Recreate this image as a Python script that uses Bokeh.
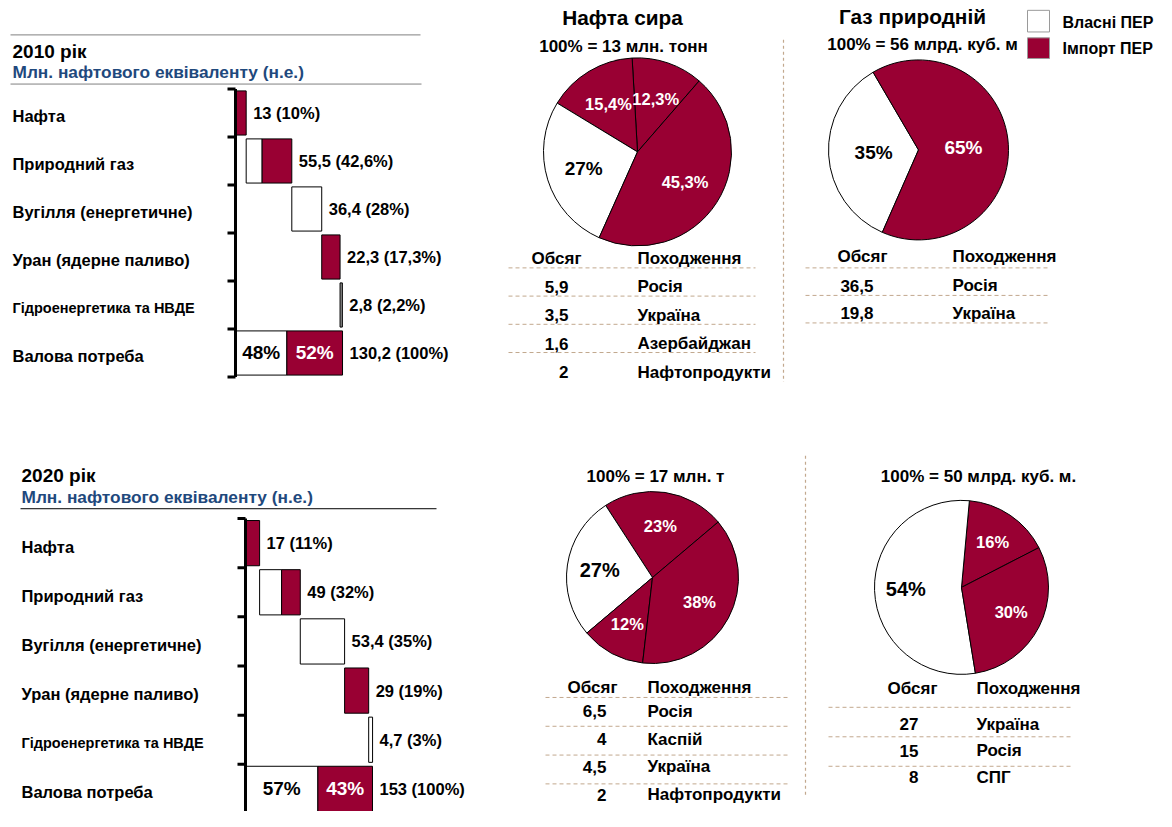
import numpy as np
from bokeh.plotting import figure
from bokeh.models import Range1d
from bokeh.embed import file_html
from bokeh.resources import INLINE
from bokeh.core.properties import value

# ------------------------------------------------------------------ data
categories = ["Нафта", "Природний газ", "Вугілля (енергетичне)",
              "Уран (ядерне паливо)", "Гідроенергетика та НВДЕ", "Валова потреба"]

own_2010 = [0.0, 19.4, 36.4, 0.0, 2.8]
imp_2010 = [13.0, 36.1, 0.0, 22.3, 0.0]
total_2010 = 130.2
share_2010 = [48, 52]
share_text_2010 = ["48%", "52%"]
value_labels_2010 = ["13 (10%)", "55,5 (42,6%)", "36,4 (28%)", "22,3 (17,3%)",
                     "2,8 (2,2%)", "130,2 (100%)"]

own_2020 = [0.0, 26.5, 53.4, 0.0, 4.7]
imp_2020 = [17.0, 22.5, 0.0, 29.0, 0.0]
total_2020 = 153.0
share_2020 = [57, 43]
share_text_2020 = ["57%", "43%"]
value_labels_2020 = ["17 (11%)", "49 (32%)", "53,4 (35%)", "29 (19%)",
                     "4,7 (3%)", "153 (100%)"]

# pies (slices listed counter-clockwise)
oil2010_pct = [12.3, 15.4, 27.0, 45.3]
oil2010_kind = ["imp", "imp", "own", "imp"]
oil2010_text = ["12,3%", "15,4%", "27%", "45,3%"]
oil2010_vol = ["5,9", "3,5", "1,6", "2"]
oil2010_origin = ["Росія", "Україна", "Азербайджан", "Нафтопродукти"]

gas2010_pct = [35.0, 65.0]
gas2010_kind = ["own", "imp"]
gas2010_text = ["35%", "65%"]
gas2010_vol = ["36,5", "19,8"]
gas2010_origin = ["Росія", "Україна"]

oil2020_pct = [23.0, 27.0, 12.0, 38.0]
oil2020_kind = ["imp", "own", "imp", "imp"]
oil2020_text = ["23%", "27%", "12%", "38%"]
oil2020_vol = ["6,5", "4", "4,5", "2"]
oil2020_origin = ["Росія", "Каспій", "Україна", "Нафтопродукти"]

gas2020_pct = [16.0, 54.0, 30.0]
gas2020_kind = ["imp", "own", "imp"]
gas2020_text = ["16%", "54%", "30%"]
gas2020_vol = ["27", "15", "8"]
gas2020_origin = ["Україна", "Росія", "СПГ"]

legend_labels = ["Власні ПЕР", "Імпорт ПЕР"]
table_header = ["Обсяг", "Походження"]

# ------------------------------------------------------------------ style
RED = "#990033"
WHITE = "#ffffff"
BLUE = "#1F497D"
DASH = "#c2a88e"
FONT = value("Liberation Sans")
KCOL = {"own": WHITE, "imp": RED}

W, H = 1156, 811
YSPAN = 825          # layout units spanned vertically by the figure
def Y(py):
    return YSPAN - py

p = figure(width=W, height=H, x_range=Range1d(0, W), y_range=Range1d(0, YSPAN),
           output_backend="svg", toolbar_location=None, min_border=0,
           x_axis_location=None, y_axis_location=None)
p.grid.visible = False
p.outline_line_color = None


def txt(api, x, y, t, size, align="left", color="black", baseline="middle", x_offset=0):
    api.text(x=list(x), y=list(y), text=list(t), text_font=FONT,
             text_font_size=size if isinstance(size, list) else f"{size}px",
             text_font_style="bold", text_color=color, text_align=align,
             text_baseline=baseline, x_offset=x_offset)


# ------------------------------------------------------------------ waterfall
def waterfall(own, imp, total, share, share_text, vlabels, axis_x, pxu, y_top, y_bot,
              label_x, title, title_y, sub_y):
    n = len(categories)
    sub = p.subplot(x_source=Range1d(0, 100), x_target=Range1d(axis_x, axis_x + 100 * pxu),
                    y_source=Range1d(0, n), y_target=Range1d(Y(y_top), Y(y_bot)))
    ident = p.subplot(x_source=Range1d(0, 1), x_target=Range1d(0, 1),
                      y_source=Range1d(0, n), y_target=Range1d(Y(y_top), Y(y_bot)))
    own = np.array(own)
    imp = np.array(imp)
    tot = own + imp
    left = np.concatenate([[0.0], np.cumsum(tot)[:-1]])
    rows = np.arange(len(own), dtype=float)
    L, R, T, B, C = [], [], [], [], []
    for i in range(len(own)):
        if own[i] > 0:
            # very thin bars render as a dark sliver in the original
            L.append(left[i]); R.append(left[i] + own[i])
            C.append("#8c8c8c" if own[i] * pxu < 3 else WHITE)
            T.append(rows[i] + 0.04); B.append(rows[i] + 0.96)
        if imp[i] > 0:
            L.append(left[i] + own[i]); R.append(left[i] + tot[i]); C.append(RED)
            T.append(rows[i] + 0.04); B.append(rows[i] + 0.96)
    tot_own = total * share[0] / 100.0
    L += [0.0, tot_own]; R += [tot_own, total]; C += [WHITE, RED]
    T += [n - 1 + 0.04] * 2; B += [n - 1 + 0.96] * 2
    sub.quad(left=L, right=R, top=T, bottom=B, fill_color=C, line_color="black", line_width=1)
    # axis
    sub.segment(x0=[0], y0=[0], x1=[0], y1=[n], line_color="black", line_width=3)
    ks = list(range(n + 1))
    sub.segment(x0=[-8 / pxu] * len(ks), y0=ks, x1=[0] * len(ks), y1=ks,
                line_color="black", line_width=3)
    # value labels
    ends = list(left + tot) + [total]
    txt(sub, ends, list(rows + 0.5) + [n - 0.5], vlabels, 16.5, x_offset=7)
    # share labels inside total bar
    txt(sub, [tot_own / 2], [n - 0.5], [share_text[0]], 19, align="center", color="black")
    txt(sub, [tot_own + (total - tot_own) / 2], [n - 0.5], [share_text[1]], 19,
        align="center", color="white")
    # category labels
    sizes = ["16.5px"] * n
    sizes[4] = "14.5px"
    txt(ident, [label_x] * n, list(np.arange(n) + 0.57), categories, sizes)
    # headings
    txt(p, [label_x], [Y(title_y)], [title], 19)
    txt(p, [label_x], [Y(sub_y)], ["Млн. нафтового еквіваленту (н.е.)"], 17.3, color=BLUE)


waterfall(own_2010, imp_2010, total_2010, share_2010, share_text_2010, value_labels_2010,
          235, 0.822, 90, 383, 12, "2010 рік", 52, 73)
p.segment(x0=[10, 10], y0=[Y(35), Y(85)], x1=[420, 421], y1=[Y(35), Y(85)],
          line_color="#808080", line_width=1)

waterfall(own_2020, imp_2020, total_2020, share_2020, share_text_2020, value_labels_2020,
          245, 0.83, 527, 827, 21, "2020 рік", 483, 505)
p.segment(x0=[20], y0=[Y(517)], x1=[436], y1=[Y(517)], line_color="black", line_width=1)


# ------------------------------------------------------------------ pies
def pie(cx, cy, r, start_deg, pcts, kinds, texts, frac, own_fs, imp_fs):
    cum = np.concatenate([[0.0], np.cumsum(pcts)])
    a = np.deg2rad(start_deg + 3.6 * cum)
    s, e = a[:-1], a[1:]
    p.wedge(x=[cx] * len(pcts), y=[Y(cy)] * len(pcts), radius=r, start_angle=list(s),
            end_angle=list(e), fill_color=[KCOL[k] for k in kinds], line_color="black",
            line_width=1)
    m = (s + e) / 2
    xs = cx + frac * r * np.cos(m)
    ys = Y(cy) + frac * r * np.sin(m)
    for k, col, fs in (("own", "black", own_fs), ("imp", "white", imp_fs)):
        idx = [i for i in range(len(kinds)) if kinds[i] == k]
        txt(p, xs[idx], ys[idx], [texts[i] for i in idx], fs, align="center", color=col)


pie(637, 154, 94, 49.0, oil2010_pct, oil2010_kind, oil2010_text, 0.6, 19, 16.5)
pie(918, 152, 90, 120.3, gas2010_pct, gas2010_kind, gas2010_text, 0.5, 19, 19)
pie(652, 587, 86, 40.2, oil2020_pct, oil2020_kind, oil2020_text, 0.62, 20, 16.5)
pie(961, 597, 87, 27.2, gas2020_pct, gas2020_kind, gas2020_text, 0.64, 20, 16.5)


# ------------------------------------------------------------------ tables
def table(vols, origins, header_y, hdr_cx, line_y0, line_dy, n_lines, row_y0, row_dy,
          x0, x1, vol_rx, origin_x):
    txt(p, [hdr_cx], [Y(header_y)], [table_header[0]], 17, align="center")
    txt(p, [origin_x], [Y(header_y)], [table_header[1]], 17)
    ly = [Y(line_y0 + i * line_dy) for i in range(n_lines)]
    p.segment(x0=[x0] * n_lines, y0=ly, x1=[x1] * n_lines, y1=ly, line_color=DASH,
              line_width=1, line_dash="4 3")
    ry = [Y(row_y0 + i * row_dy) for i in range(len(vols))]
    txt(p, [vol_rx] * len(vols), ry, vols, 17, align="right")
    txt(p, [origin_x] * len(vols), ry, origins, 17)


table(oil2010_vol, oil2010_origin, 262, 556, 272, 28.7, 4, 291, 29, 508, 755, 568, 637)
table(gas2010_vol, gas2010_origin, 260, 862, 272, 28, 3, 290, 28, 805, 1047, 873, 952)
table(oil2020_vol, oil2020_origin, 699, 592, 709, 29.3, 4, 723, 28.3, 545, 787, 606, 647)
table(gas2020_vol, gas2020_origin, 700, 912, 719, 30, 3, 736, 27, 828, 1073, 918, 976)

# vertical dashed separators
p.segment(x0=[783, 805], y0=[Y(40), Y(463)], x1=[783, 805], y1=[Y(388), Y(810)],
          line_color=DASH, line_width=1.2, line_dash="3 3")

# titles
txt(p, [622, 912], [Y(17), Y(16)], ["Нафта сира", "Газ природній"], 20.8, align="center")
txt(p, [623, 922, 655, 978], [Y(47), Y(45), Y(484), Y(484)],
    ["100% = 13 млн. тонн", "100% = 56 млрд. куб. м", "100% = 17 млн. т",
     "100% = 50 млрд. куб. м."], 17, align="center")

# legend
p.quad(left=[1027, 1027], right=[1049, 1049], top=[Y(10), Y(38)], bottom=[Y(32), Y(59)],
       fill_color=[WHITE, RED], line_color="#9a9a9a", line_width=1)
txt(p, [1062, 1062], [Y(22), Y(49)], legend_labels, 16)

open("out.html", "w").write(file_html(p, INLINE))
